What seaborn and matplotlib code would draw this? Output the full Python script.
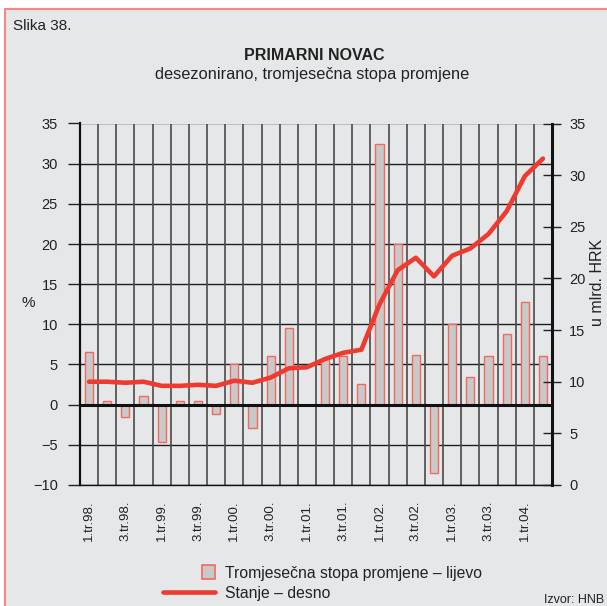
import numpy as np
import pandas as pd
import matplotlib
matplotlib.use("Agg")
import matplotlib.pyplot as plt
import matplotlib.patches as mpatches
from matplotlib.lines import Line2D
from matplotlib.legend_handler import HandlerPatch
import seaborn as sns

# Quarters 1998 Q1 – 2004 Q2
quarters = [f"{q}.tr.{y:02d}." for y in [98, 99, 0, 1, 2, 3, 4] for q in range(1, 5)][:26]

# Quarterly rate of change, % (left axis)
rate = [6.5, 0.5, -1.5, 1.1, -4.6, 0.5, 0.5, -1.1, 5.1, -2.9, 6.1, 9.5,
        0.0, 5.7, 6.1, 2.6, 32.5, 20.0, 6.2, -8.5, 10.0, 3.5, 6.1, 8.8, 12.8, 6.0]

# Stock, bn HRK (right axis)
stock = [10.0, 10.0, 9.9, 10.0, 9.6, 9.6, 9.7, 9.6, 10.1, 9.9, 10.4, 11.3,
         11.4, 12.2, 12.8, 13.1, 17.5, 20.8, 22.0, 20.2, 22.2, 22.9, 24.3, 26.5, 29.9, 31.6]

df = pd.DataFrame({"kvartal": quarters, "stopa": rate, "stanje": stock,
                   "pos": np.arange(len(quarters))})

BG = "#e6e7e8"
RED = "#ee3b30"
EDGE = "#f06a60"
BARFILL = "#c9c9c9"
INK = "#222222"

sns.set_style("white")
plt.rcParams["font.family"] = ["Liberation Sans", "DejaVu Sans"]

fig = plt.figure(figsize=(6.07, 6.06), dpi=100)
fig.patch.set_facecolor("white")

# framed panel
fig.patches.append(mpatches.Rectangle((5 / 607, -0.05), 1.2, 1 - 9 / 606 + 0.05,
                                      transform=fig.transFigure, facecolor=BG,
                                      edgecolor="#f08a84", linewidth=1.5, zorder=-10))

ax = fig.add_axes([80 / 607, 1 - 485 / 606, 472 / 607, (485 - 123.5) / 606])
ax.set_facecolor(BG)

sns.barplot(data=df, x="pos", y="stopa", ax=ax, color=BARFILL, width=0.45,
            edgecolor=EDGE, linewidth=1.0, saturation=1, native_scale=True, zorder=3)

n = len(quarters)
ax.set_xlim(-0.5, n - 0.5)
ax.set_ylim(-10, 35)
ax.set_yticks(np.arange(-10, 36, 5))
ax.set_xlabel("")
ax.set_ylabel("")

# grid
for yv in np.arange(-10, 36, 5):
    ax.axhline(yv, color="#1e1e1e", lw=1.0, zorder=1)
ax.axhline(0, color="#111111", lw=2.2, zorder=4)
for xv in np.arange(0.5, n - 0.5, 1):
    ax.axvline(xv, color="#4a4a4a", lw=1.2, zorder=1)

# x ticks: marks at boundaries, labels at every other quarter
ax.set_xticks(np.arange(-0.5, n, 1))
ax.set_xticklabels([])
ax.tick_params(axis="x", which="major", direction="inout", length=10, width=1, color=INK)
ax.set_xticks(np.arange(0, n, 2), minor=True)
ax.set_xticklabels([quarters[i] for i in range(0, n, 2)], minor=True,
                   rotation=90, fontsize=9.5, color=INK, va="top")
ax.tick_params(axis="x", which="minor", length=0, pad=11)

ax.tick_params(axis="y", direction="out", length=9, width=1, color=INK,
               labelsize=10.5, labelcolor=INK, pad=7)

for s in ["top", "right"]:
    ax.spines[s].set_visible(False)
ax.spines["left"].set_color("#111111")
ax.spines["left"].set_linewidth(1.6)
ax.spines["bottom"].set_color("#111111")
ax.spines["bottom"].set_linewidth(1.0)

# right axis: stock
ax2 = ax.twinx()
sns.lineplot(data=df, x="pos", y="stanje", ax=ax2, color=RED, lw=3.3, zorder=5)
ax2.set_ylim(0, 35)
ax2.set_yticks(np.arange(0, 36, 5))
ax2.set_xlim(-0.5, n - 0.5)
ax2.set_ylabel("")
ax2.set_xlabel("")
ax2.tick_params(axis="y", direction="inout", length=13, width=1, color=INK,
                labelsize=10.5, labelcolor=INK, pad=6)
for s in ["top", "left", "bottom"]:
    ax2.spines[s].set_visible(False)
ax2.spines["right"].set_color("#111111")
ax2.spines["right"].set_linewidth(2.2)

# texts
fig.text(13 / 607, 1 - 26 / 606, "Slika 38.", fontsize=11, color=INK, va="center")
fig.text(314 / 607, 1 - 56 / 606, "PRIMARNI NOVAC", fontsize=11.5, fontweight="bold",
         color=INK, ha="center", va="center")
fig.text(312 / 607, 1 - 75 / 606, "desezonirano, tromjesečna stopa promjene", fontsize=11.8,
         color=INK, ha="center", va="center")
fig.text(28 / 607, 1 - 303 / 606, "%", fontsize=11, color=INK, ha="center", va="center")
fig.text(598 / 607, 1 - 282 / 606, "u mlrd. HRK", fontsize=11.5, color=INK,
         ha="center", va="center", rotation=90)
fig.text(604 / 607, 1 - 600 / 606, "Izvor: HNB", fontsize=9, color=INK,
         ha="right", va="center")


# legend
def square_patch(legend, orig_handle, xdescent, ydescent, width, height, fontsize):
    side = height * 1.25
    return mpatches.Rectangle((width - side - xdescent, -ydescent - (side - height) / 2),
                              side, side)


h_bar = mpatches.Patch(facecolor=BARFILL, edgecolor=EDGE, linewidth=1.2)
h_line = Line2D([], [], color=RED, lw=3.3)
leg = fig.legend([h_bar, h_line],
                 ["Tromjesečna stopa promjene – lijevo", "Stanje – desno"],
                 loc="upper left", bbox_to_anchor=(155 / 607, 1 - 558 / 606),
                 frameon=False, fontsize=11.3, handlelength=3.35, handletextpad=0.6,
                 labelspacing=0.3, borderpad=0,
                 handler_map={mpatches.Patch: HandlerPatch(patch_func=square_patch)})
for t in leg.get_texts():
    t.set_color(INK)

fig.savefig("out.png", dpi=100, facecolor=fig.get_facecolor())
